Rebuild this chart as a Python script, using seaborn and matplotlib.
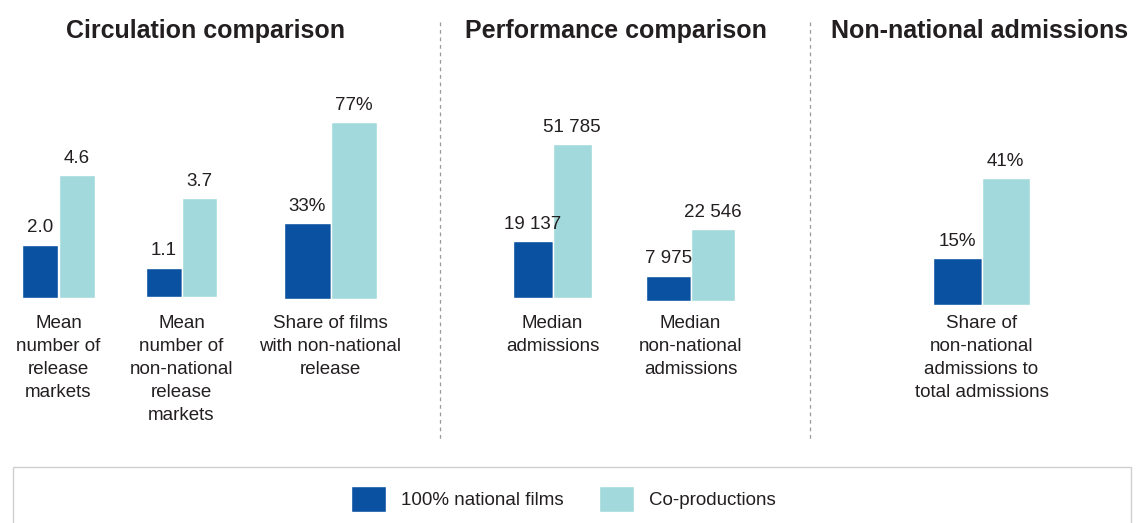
import pandas as pd
import seaborn as sns
import matplotlib.pyplot as plt
from matplotlib.patches import Rectangle, Patch
from matplotlib.lines import Line2D

# data
categories = [
    "Mean\nnumber of\nrelease\nmarkets",
    "Mean\nnumber of\nnon-national\nrelease\nmarkets",
    "Share of films\nwith non-national\nrelease",
    "Median\nadmissions",
    "Median\nnon-national\nadmissions",
    "Share of\nnon-national\nadmissions to\ntotal admissions",
]
national = [2.0, 1.1, 33, 19137, 7975, 15]
coproductions = [4.6, 3.7, 77, 51785, 22546, 41]
value_kind = ["dec", "dec", "pct", "int", "int", "pct"]
series = ["100% national films", "Co-productions"]
panel_titles = ["Circulation comparison", "Performance comparison", "Non-national admissions"]

# layout (pixels in a 1136x523 figure)
W, H = 1136, 523
centers = [58.5, 181.5, 330.5, 552.5, 690.5, 981.5]
widths = [73, 71, 93, 79, 89, 97]
baselines = [298, 297, 299, 298, 301, 305]
ymax = [7.5, 7.5, 87, 67300, 62900, 64.5]  # axis top for a 200 px tall axes
title_x = [205, 616, 980]
label_top = 315.5  # where the category labels start (px)

dark = "#0b51a1"
light = "#a2d9dc"
text_color = "#231f20"

sns.set_theme(style="white")
plt.rcParams["font.family"] = ["Liberation Sans", "DejaVu Sans"]
plt.rcParams["text.color"] = text_color


def fmt(v, kind):
    if kind == "dec":
        return "{:.1f}".format(v)
    if kind == "pct":
        return "{:.0f}%".format(v)
    return "{:,.0f}".format(v).replace(",", " ")


fig = plt.figure(figsize=(W / 100, H / 100), dpi=100)

for i, cat in enumerate(categories):
    aw = widths[i] / 0.8
    ax = fig.add_axes([(centers[i] - aw / 2) / W, (H - baselines[i]) / H, aw / W, 200 / H])
    df = pd.DataFrame({
        "cat": [cat, cat],
        "series": series,
        "value": [national[i], coproductions[i]],
    })
    sns.barplot(data=df, x="cat", y="value", hue="series", hue_order=series,
                palette=[dark, light], saturation=1, width=0.8, edgecolor="white",
                linewidth=1, legend=False, ax=ax)
    ax.set_xlim(-0.5, 0.5)
    ax.set_ylim(0, ymax[i])
    for cont in ax.containers:
        vals = [b.get_height() for b in cont]
        ax.bar_label(cont, labels=[fmt(v, value_kind[i]) for v in vals],
                     padding=6, fontsize=13.5, color=text_color)
    sns.despine(ax=ax, left=True, bottom=True)
    ax.set_yticks([])
    ax.set_xlabel("")
    ax.set_ylabel("")
    pad = (label_top - baselines[i]) * 0.72
    ax.tick_params(axis="x", length=0, pad=pad, labelsize=13.5, labelcolor=text_color)
    for lbl in ax.get_xticklabels():
        lbl.set_linespacing(1.46)
    ax.patch.set_alpha(0)

# panel titles
for t, x in zip(panel_titles, title_x):
    fig.text(x / W, 1 - 31 / H, t, ha="center", va="center",
             fontsize=18, fontweight="bold", color=text_color)

# dashed separators
for x in [440, 810]:
    fig.add_artist(Line2D([x / W, x / W], [1 - 22 / H, 1 - 440 / H], color="#9a9a9a",
                          lw=0.9, linestyle=(0, (3, 3))))

# legend box
fig.add_artist(Rectangle((13 / W, -0.05), (1131 - 13) / W, (523 - 467) / H + 0.05,
                         transform=fig.transFigure, facecolor="none",
                         edgecolor="#cfcfcf", lw=1))
handles = [Patch(facecolor=dark), Patch(facecolor=light)]
fig.legend(handles, series, loc="center", bbox_to_anchor=(0.496, 1 - 499 / H), ncol=2,
           frameon=False, fontsize=13.5, handlelength=1.87, handleheight=1.76,
           handletextpad=0.8, columnspacing=1.9)

fig.savefig("out.png", dpi=100)
